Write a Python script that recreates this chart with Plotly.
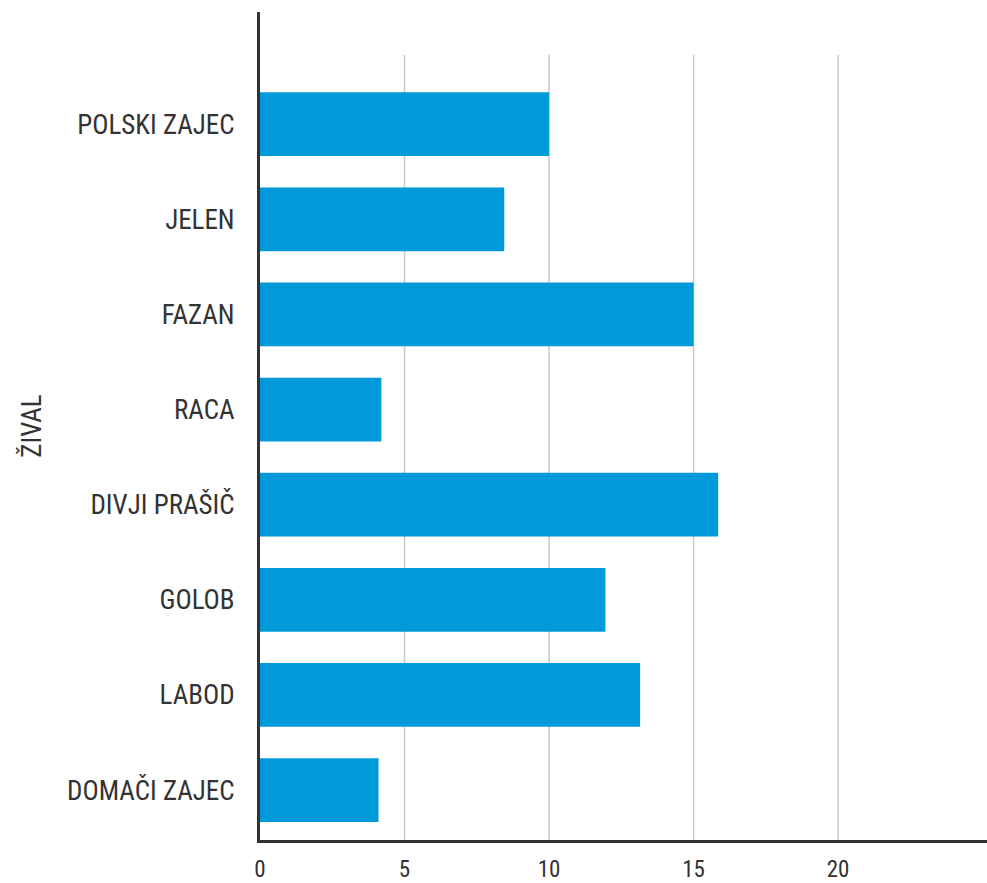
import plotly.graph_objects as go

categories = ["DOMAČI ZAJEC", "LABOD", "GOLOB", "DIVJI PRAŠIČ", "RACA", "FAZAN", "JELEN", "POLSKI ZAJEC"]
values = [4.1, 13.15, 11.95, 15.85, 4.2, 15.0, 8.45, 10.0]
x_ticks = [0, 5, 10, 15, 20]
y_title = "ŽIVAL"

W, H = 987, 883
left, right, top, bottom = 260, 0, 12, 43
FONT = "Liberation Sans Narrow, Roboto Condensed, Arial Narrow, Roboto, sans-serif"

fig = go.Figure(go.Bar(
    y=list(range(len(categories))), x=values, orientation="h",
    marker=dict(color="#0099DA", line=dict(width=0)), width=0.67,
))

plot_h = H - top - bottom
grid_top_frac = (H - bottom - 55) / plot_h
shapes = [dict(type="line", xref="x", yref="paper", x0=t, x1=t, y0=0, y1=grid_top_frac,
               line=dict(color="#c8c8c8", width=1.5), layer="below") for t in x_ticks if t > 0]

fig.update_layout(
    width=W, height=H,
    margin=dict(l=left, r=right, t=top, b=bottom, pad=0, autoexpand=False),
    paper_bgcolor="white", plot_bgcolor="white",
    font=dict(family=FONT, color="#333333", size=27),
    showlegend=False,
    shapes=shapes,
    xaxis=dict(range=[0, 25.15], tickvals=x_ticks, showgrid=False, zeroline=False,
               showline=True, linecolor="#333333", linewidth=3, ticks="", automargin=False,
               tickfont=dict(size=23), ticklabelstandoff=6, fixedrange=True),
    yaxis=dict(range=[-0.525, 8.18], tickvals=list(range(len(categories))), ticktext=categories,
               showgrid=False, zeroline=False, showline=True, linecolor="#333333", linewidth=3,
               ticks="", tickfont=dict(size=27), ticklabelstandoff=17, automargin=False,
               title=dict(text=y_title, font=dict(size=27), standoff=18)),
)
fig.write_html(
    "out.html",
    config=dict(displayModeBar=False),
    post_script="document.body.style.margin='0';document.body.style.overflow='hidden';",
)
